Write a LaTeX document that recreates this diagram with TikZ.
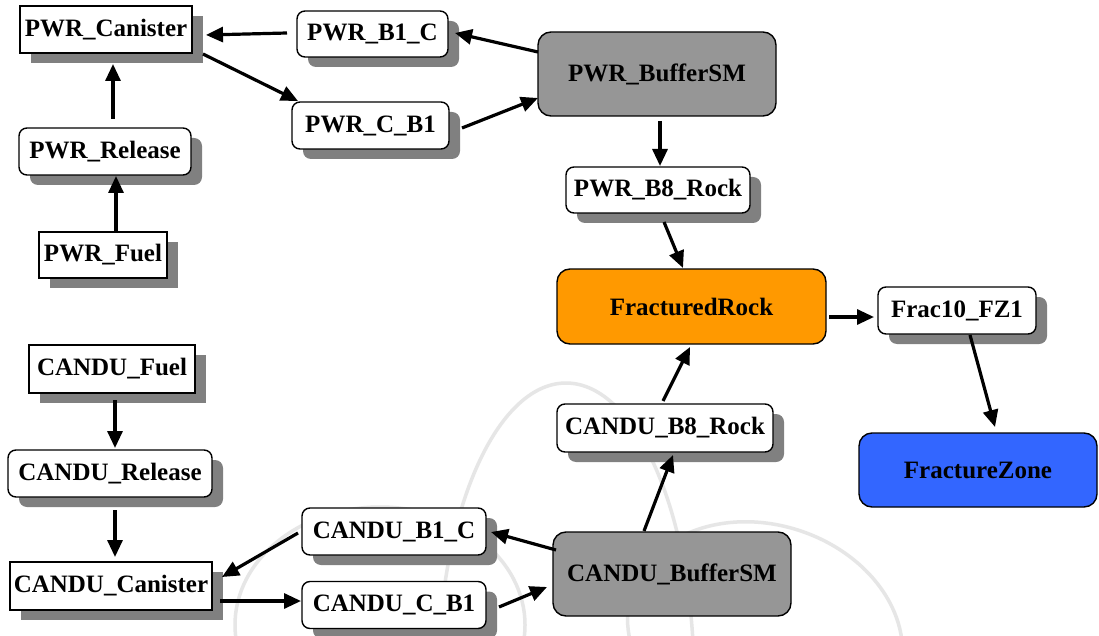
\documentclass[tikz,border=0pt]{standalone}
\usepackage{fontspec}
\setmainfont{Liberation Serif}
\usetikzlibrary{arrows.meta,calc,shadows}
\definecolor{shd}{HTML}{808080}
\definecolor{bufgray}{HTML}{969696}
\definecolor{rockorange}{HTML}{FF9900}
\definecolor{zoneblue}{HTML}{3366FF}
\definecolor{wmark}{HTML}{E6E6E6}
\begin{document}
\begin{tikzpicture}[x=1pt,y=-1pt,
  base/.style={draw=black, line width=1.4pt, inner sep=0pt,
    font=\fontsize{25}{30}\selectfont\bfseries, text=black},
  sqbox/.style={base, rectangle, fill=white,
    drop shadow={shadow xshift=11pt, shadow yshift=-10pt, opacity=1, fill=shd}},
  rdbox/.style={sqbox, rounded corners=8pt},
  bigbox/.style={base, rounded corners=13pt},
  arr/.style={line width=3.2pt, -{Triangle[length=17pt,width=15pt]}},
  wm/.style={draw=wmark, line width=3.5pt}]
\useasboundingbox (0,0) rectangle (1099,636);
\fill[white] (0,0) rectangle (1099,636);
\begin{scope}
\clip (0,0) rectangle (1099,636);
\draw[wm] (566,680) ellipse [x radius=128, y radius=297];
\draw[wm, rotate around={-18:(765,635)}] (765,635) ellipse [x radius=140, y radius=110];
\draw[wm] (380,625) ellipse [x radius=145, y radius=118];
\end{scope}

% nodes
\node[sqbox, minimum width=172pt, minimum height=47pt] (can) at (106,29.5) {PWR\_Canister};
\node[rdbox, minimum width=151pt, minimum height=46pt] (b1c) at (372.5,34) {PWR\_B1\_C};
\node[rdbox, minimum width=157pt, minimum height=47pt] (cb1) at (370.5,125.5) {PWR\_C\_B1};
\node[bigbox, fill=bufgray, minimum width=238pt, minimum height=84pt] (pbuf) at (657,74) {PWR\_BufferSM};
\node[rdbox, minimum width=172pt, minimum height=47pt] (prel) at (105,151.5) {PWR\_Release};
\node[sqbox, minimum width=128pt, minimum height=46pt] (pfuel) at (103,255) {PWR\_Fuel};
\node[rdbox, minimum width=184pt, minimum height=46pt] (pb8) at (658,190) {PWR\_B8\_Rock};
\node[bigbox, fill=rockorange, minimum width=269pt, minimum height=75pt] (frock) at (691.5,306.5) {FracturedRock};
\node[rdbox, minimum width=158pt, minimum height=47pt] (fz1) at (957,310.5) {Frac10\_FZ1};
\node[bigbox, fill=zoneblue, minimum width=238pt, minimum height=74pt] (fzone) at (978,470) {FractureZone};
\node[sqbox, minimum width=166pt, minimum height=48pt] (cfuel) at (112,369) {CANDU\_Fuel};
\node[rdbox, minimum width=204pt, minimum height=47pt] (crel) at (110,473.5) {CANDU\_Release};
\node[sqbox, minimum width=202pt, minimum height=48pt] (ccan) at (111,586) {CANDU\_Canister};
\node[rdbox, minimum width=184pt, minimum height=47pt] (cb1c) at (394,531.5) {CANDU\_B1\_C};
\node[rdbox, minimum width=184pt, minimum height=47pt] (ccb1) at (394,605) {CANDU\_C\_B1};
\node[bigbox, fill=bufgray, minimum width=238pt, minimum height=84pt] (cbuf) at (672,574) {CANDU\_BufferSM};
\node[rdbox, minimum width=216pt, minimum height=48pt] (cb8) at (665,428) {CANDU\_B8\_Rock};

% connectors
\draw[arr] ($(b1c)+(-85.5,-1)$) -- ($(can)+(100,5.5)$);
\draw[arr] ($(can)+(97,24.5)$) -- ($(cb1)+(-72.5,-24.5)$);
\draw[arr] ($(pbuf)+(-119,-22)$) -- ($(b1c)+(82.5,-1)$);
\draw[arr] ($(cb1)+(91.5,2.5)$) -- ($(pbuf)+(-119,24)$);
\draw[arr] ($(prel)+(8,-32.5)$) -- ($(can)+(7,34.5)$);
\draw[arr] ($(pfuel)+(13,-24)$) -- ($(prel)+(11,24.5)$);
\draw[arr] ($(pbuf)+(3,47)$) -- ($(pb8)+(2,-24)$);
\draw[arr] ($(pb8)+(6,32)$) -- ($(frock)+(-8.5,-38.5)$);
\draw[arr] ($(frock)+(137.5,10.5)$) -- ($(fz1)+(-83,6.5)$);
\draw[arr] ($(fz1)+(13,24.5)$) -- ($(fzone)+(17,-43)$);
\draw[arr] ($(cb8)+(-2,-27)$) -- ($(frock)+(-1.5,40.5)$);
\draw[arr] ($(cbuf)+(-28,-43)$) -- ($(cb8)+(8,27)$);
\draw[arr] ($(cbuf)+(-116,-24)$) -- ($(cb1c)+(97,0.5)$);
\draw[arr] ($(ccb1)+(105,2)$) -- ($(cbuf)+(-125,13)$);
\draw[arr] ($(cb1c)+(-96,1.5)$) -- ($(ccan)+(111,-9)$);
\draw[arr] ($(ccan)+(109,15)$) -- ($(ccb1)+(-93,-4)$);
\draw[arr] ($(cfuel)+(3,31)$) -- ($(crel)+(5,-25.5)$);
\draw[arr] ($(crel)+(5,36.5)$) -- ($(ccan)+(4,-29)$);
\end{tikzpicture}
\end{document}
